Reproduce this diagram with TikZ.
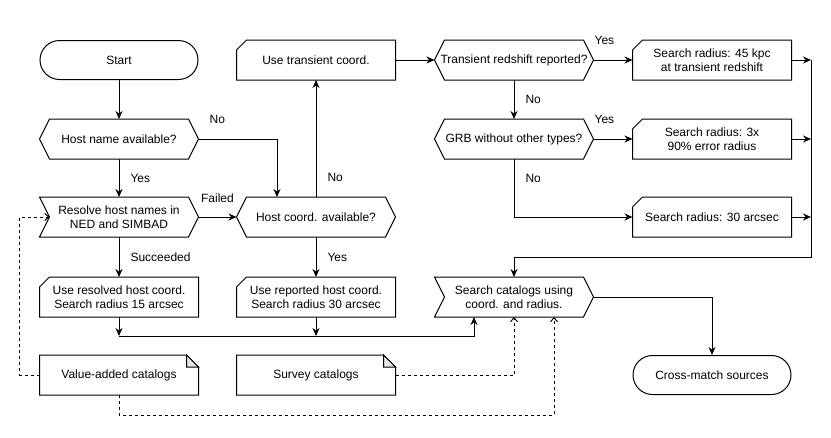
\documentclass[tikz,border=0pt]{standalone}
\usepackage{fontspec}
\setmainfont{Liberation Sans}
\usetikzlibrary{arrows.meta,positioning,calc}

\begin{document}
\begin{tikzpicture}[
    x=1pt, y=-1pt, line width=1pt,
    box/.style={minimum width=158pt, minimum height=39pt, align=center, inner sep=0pt, font=\fontsize{12}{14}\selectfont},
    term/.style={box, draw, rounded corners=19.5pt},
    lbl/.style={font=\fontsize{12}{14}\selectfont, inner sep=0pt},
    arr/.style={-{Stealth[length=8pt, width=7pt]}},
    dots/.style={-{Straight Barb[length=4pt, width=7pt]}, dash pattern=on 3pt off 3pt}
]
\useasboundingbox (0,0) rectangle (831,437);

% boxes
\node[term] (start) at (119,60) {Start};
\node[box] (hname) at (119,139) {Host name available?};
\node[box] (resolve) at (119,217) {Resolve host names in\\NED and SIMBAD};
\node[box] (hcoord) at (316,217) {Host coord. available?};
\node[box] (tcoord) at (316,60) {Use transient coord.};
\node[box] (zrep) at (514,60) {Transient redshift reported?};
\node[box] (r45) at (712,60) {Search radius: 45 kpc\\at transient redshift};
\node[box] (grb) at (514,139) {GRB without other types?};
\node[box] (r3x) at (712,139) {Search radius: 3x\\90\% error radius};
\node[box] (r30) at (712,217) {Search radius: 30 arcsec};
\node[box] (resolved) at (119,297) {Use resolved host coord.\\Search radius 15 arcsec};
\node[box] (reported) at (316,297) {Use reported host coord.\\Search radius 30 arcsec};
\node[box] (search) at (514,297) {Search catalogs using\\coord. and radius.};
\node[box] (vac) at (119,375) {Value-added catalogs};
\node[box] (survey) at (316,375) {Survey catalogs};
\node[term] (xmatch) at (712,375) {Cross-match sources};

% outlines
\foreach \n in {hname,hcoord,zrep,grb}
  \draw (\n.west) -- ([xshift=10pt]\n.north west) -- ([xshift=-10pt]\n.north east) -- (\n.east)
    -- ([xshift=-10pt]\n.south east) -- ([xshift=10pt]\n.south west) -- cycle;
\foreach \n in {resolve,search}
  \draw (\n.north west) -- ([xshift=-10pt]\n.north east) -- (\n.east)
    -- ([xshift=-10pt]\n.south east) -- (\n.south west) -- ([xshift=10pt]\n.west) -- cycle;
\foreach \n in {tcoord,r45,r3x,r30,resolved,reported}
  \draw ([yshift=-10pt]\n.north west) -- ([xshift=10pt]\n.north west) -- (\n.north east)
    -- (\n.south east) -- (\n.south west) -- cycle;
\foreach \n in {vac,survey} {
  \draw (\n.north west) -- ([xshift=-12pt]\n.north east) -- ([yshift=-12pt]\n.north east)
    -- (\n.south east) -- (\n.south west) -- cycle;
  \filldraw[fill=black!10] ([xshift=-12pt]\n.north east) -- ([xshift=-12pt,yshift=-12pt]\n.north east)
    -- ([yshift=-12pt]\n.north east) -- cycle;
}

% connectors
\coordinate (rtop) at (811,60);
\coordinate (rbot) at (811,257);
\coordinate (jl) at (119,336);
\coordinate (jr) at (316,336);

\draw[arr] (start) -- (hname);
\draw[arr] (hname.east) -| node[lbl, pos=0.12, above=15pt] {No} ([xshift=-39pt]hcoord.north);
\draw[arr] (hname) -- node[lbl, right=11pt] {Yes} (resolve);
\draw[arr] (resolve.east) -- node[lbl, above=14pt] {Failed} (hcoord.west);
\draw[arr] (hcoord) -- node[lbl, pos=0.17, right=11pt] {No} (tcoord);
\draw[arr] (hcoord) -- node[lbl, right=11pt] {Yes} (reported);
\draw[arr] (resolve) -- node[lbl, right=11pt] {Succeeded} (resolved);
\draw[arr] (tcoord) -- (zrep);
\draw[arr] (zrep) -- node[lbl, pos=0.28, above=15pt] {Yes} (r45);
\draw[arr] (zrep) -- node[lbl, right=11pt] {No} (grb);
\draw[arr] (grb) -- node[lbl, pos=0.28, above=15pt] {Yes} (r3x);
\draw[arr] (grb.south) |- node[lbl, pos=0.17, right=11pt] {No} (r30.west);
\draw[arr] (r45.east) -- (r45.east -| rtop);
\draw[arr] (r3x.east) -- (r3x.east -| rtop);
\draw[arr] (r30.east) -- (r30.east -| rtop);
\draw[arr] (rtop) -- (rbot) -| (search.north);
\draw[arr] (resolved) -- (jl);
\draw[arr] (reported) -- (jr);
\draw[arr] (jl) -| ([xshift=-40pt]search.south);
\draw[arr] (search.east) -| (xmatch.north);

\draw[dots] (vac.west) -- ++(-20,0) |- ([xshift=10pt]resolve.west);
\draw[dots] (vac.south) -- ++(0,20) -| ([xshift=40pt]search.south);
\draw[dots] (survey.east) -| (search.south);
\end{tikzpicture}
\end{document}
